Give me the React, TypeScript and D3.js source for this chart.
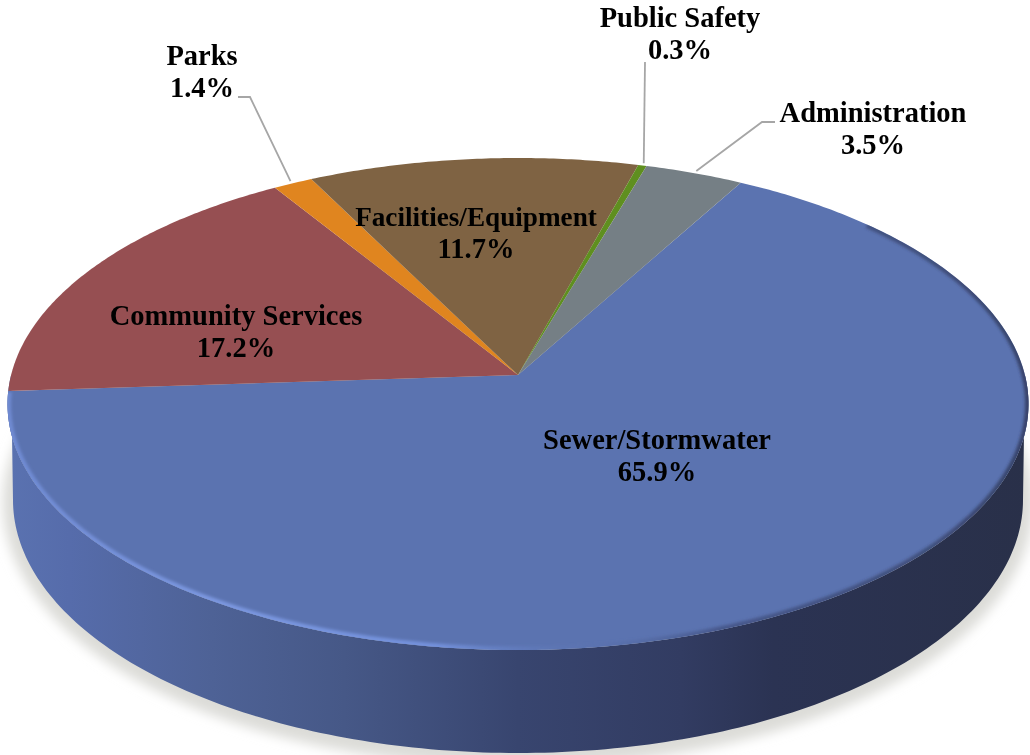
import React from "react";
import * as d3 from "d3";

const categories = ["Sewer/Stormwater", "Community Services", "Parks", "Facilities/Equipment", "Public Safety", "Administration"];
const shares = [65.9, 17.2, 1.4, 11.7, 0.3, 3.5];
const sliceColors = ["#5b73b0", "#964f52", "#e0851f", "#7f6343", "#5f8f1f", "#757f85"];

const labelAnchors: [number, number][] = [[657, 449], [236, 325], [202, 65], [476, 226], [680, 27], [873, 122]];
const nameSizes = [28.5, 28.5, 28.5, 27.2, 28.5, 28.5];
const leaderElbows: ([number, number][] | null)[] = [
  null, null,
  [[250, 97], [238, 97]],
  null,
  [[645, 62]],
  [[762, 122], [775, 122]],
];

const W = 1030, H = 755;
const apex = { x: 518, y: 375 };
const persp = -0.118, projRx = 506.9, projRy = 242.6;
const startDeg = 29;

// maps a clock angle of the round pie onto the tilted face
const project = (a: number, r = 1): [number, number] => {
  const u = r * Math.sin(a), v = -r * Math.cos(a);
  const w = 1 + persp * v;
  return [apex.x + (projRx * u) / w, apex.y + (projRy * v) / w];
};
const line = d3.line<[number, number]>().x(d => d[0]).y(d => d[1]);
const rad = (d: number) => (Math.PI * d) / 180;

const arcSamples = (a0: number, a1: number) => {
  const n = Math.max(2, Math.ceil(Math.abs(a1 - a0) / 0.01));
  return d3.range(n + 1).map(i => project(a0 + ((a1 - a0) * i) / n));
};

const slices = d3.pie<number>().sort(null)
  .startAngle(rad(startDeg))
  .endAngle(rad(startDeg) + 2 * Math.PI)(shares);

const baseEllipse = { cx: 518, cy: 500, rx: 505, ry: 253 };
const ellipsePt = (t: number): [number, number] => [baseEllipse.cx + baseEllipse.rx * Math.cos(t), baseEllipse.cy + baseEllipse.ry * Math.sin(t)];

const faceFront = d3.range(0, 181).map(d => project(rad(90 + d)));
const baseFront = d3.range(0, 181).map(d => ellipsePt(rad(180 - d)));
const sidePath = line([...faceFront, ...baseFront])! + "Z";
const fullBase = line(d3.range(0, 361).map(d => ellipsePt(rad(d))))! + "Z";
const faceOutline = line(d3.range(0, 361).map(d => project(rad(d))))! + "Z";
const rimPath = line(d3.range(48, 267).map(d => project(rad(d))))!;

const sideStops: [number, string][] = [[0, "#5a72b0"], [0.06, "#566cab"], [0.2, "#4e6296"], [0.33, "#465887"], [0.5, "#38456f"], [0.66, "#323c62"], [0.75, "#2b3353"], [1, "#293049"]];

export default function App() {
  return (
    <svg width={W} height={H} viewBox={`0 0 ${W} ${H}`} style={{ position: "absolute", left: 0, top: 0, background: "#fff" }}>
      <defs>
        <linearGradient id="side" gradientUnits="userSpaceOnUse" x1={8} x2={1028} y1={0} y2={0}>
          {sideStops.map(([o, c]) => <stop key={o} offset={o} stopColor={c} />)}
        </linearGradient>
        <linearGradient id="rim" gradientUnits="userSpaceOnUse" x1={8} x2={1028} y1={0} y2={0}>
          <stop offset={0} stopColor="#6f8ad2" />
          <stop offset={0.2} stopColor="#7b97e0" />
          <stop offset={0.42} stopColor="#7391dc" />
          <stop offset={0.55} stopColor="#5f78b8" stopOpacity={0.25} />
          <stop offset={0.7} stopColor="#3e4c7c" stopOpacity={0.7} />
          <stop offset={0.9} stopColor="#2b3353" stopOpacity={0.55} />
          <stop offset={1} stopColor="#2b3353" stopOpacity={0.75} />
        </linearGradient>
        <filter id="soft" x="-6%" y="-8%" width="112%" height="120%"><feGaussianBlur stdDeviation={6} /></filter>
        <filter id="rimBlur" x="-2%" y="-2%" width="104%" height="104%"><feGaussianBlur stdDeviation={1.7} /></filter>
        <filter id="textSoft" x="-5%" y="-10%" width="110%" height="120%"><feGaussianBlur stdDeviation={0.35} /></filter>
        <clipPath id="faceClip"><path d={faceOutline} /></clipPath>
      </defs>

      <path d={fullBase} fill="#dcdcd8" stroke="#dcdcd8" strokeWidth={20} filter="url(#soft)" transform="translate(0,3)" />
      <path d={sidePath} fill="url(#side)" />

      {slices.map((s, i) => {
        const pts = arcSamples(s.startAngle, s.endAngle);
        return <path key={categories[i]} d={line([[apex.x, apex.y], ...pts])! + "Z"} fill={sliceColors[i]} />;
      })}

      <g clipPath="url(#faceClip)">
        <path d={rimPath} fill="none" stroke="url(#rim)" strokeWidth={7} filter="url(#rimBlur)" />
      </g>

      {slices.map((s, i) => {
        const elbow = leaderElbows[i];
        if (!elbow) return null;
        const mid = (s.startAngle + s.endAngle) / 2;
        const from = project(mid, 1.012);
        return <path key={i} d={line([from, ...elbow])!} fill="none" stroke="#a6a6a6" strokeWidth={1.8} />;
      })}

      {categories.map((c, i) => {
        const [x, y] = labelAnchors[i];
        return (
          <text key={c} x={x} y={y} textAnchor="middle" fontFamily="'Liberation Serif'" fontWeight="bold" fontSize={28.5} fill="#000" filter="url(#textSoft)">
            <tspan x={x} fontSize={nameSizes[i]}>{c}</tspan>
            <tspan x={x} dy={32}>{d3.format(".1f")(shares[i])}%</tspan>
          </text>
        );
      })}
    </svg>
  );
}
